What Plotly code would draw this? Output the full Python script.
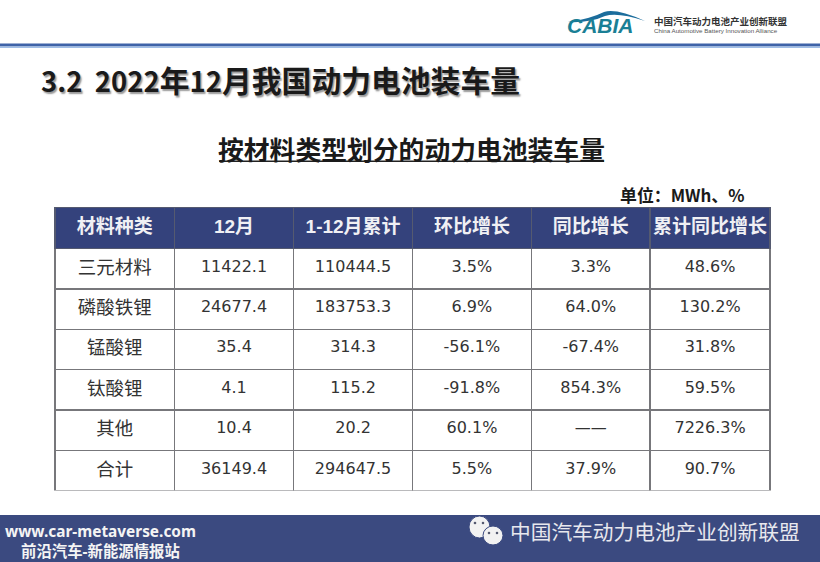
import plotly.graph_objects as go

headers = ["材料种类", "12月", "1-12月累计", "环比增长", "同比增长", "累计同比增长"]
materials = ["三元材料", "磷酸铁锂", "锰酸锂", "钛酸锂", "其他", "合计"]
dec_mwh = ["11422.1", "24677.4", "35.4", "4.1", "10.4", "36149.4"]
ytd_mwh = ["110444.5", "183753.3", "314.3", "115.2", "20.2", "294647.5"]
mom = ["3.5%", "6.9%", "-56.1%", "-91.8%", "60.1%", "5.5%"]
yoy = ["3.3%", "64.0%", "-67.4%", "854.3%", "——", "37.9%"]
ytd_yoy = ["48.6%", "130.2%", "31.8%", "59.5%", "7226.3%", "90.7%"]

W, H = 820, 562
CJK = "Noto Sans CJK SC"
MIX = "DejaVu Sans, Noto Sans CJK SC"
HEADFONT = "Liberation Sans, Noto Sans CJK SC"
NAVY = "#3b4a80"
HEAD = "#34427c"
LINE = "#77777b"
TXT = "#333333"


def px(v):
    return v / W


def py(v):
    return 1 - v / H


def sub(col):
    return [f"<sub>{v}</sub>" for v in col]


fig = go.Figure(go.Table(
    domain=dict(x=[px(55), px(771)], y=[py(491), py(207.5)]),
    columnwidth=[119.5, 119.5, 119, 119, 119, 120],
    header=dict(
        values=[f"<b>{h}</b>" for h in headers],
        height=41,
        fill_color=HEAD,
        line=dict(color="#555a70", width=1.4),
        align="center",
        font=dict(family=HEADFONT, size=19, color="#f0f0f4"),
    ),
    cells=dict(
        values=[sub(c) for c in (materials, dec_mwh, ytd_mwh, mom, yoy, ytd_yoy)],
        height=40.4,
        fill_color="white",
        line=dict(color=LINE, width=1.4),
        align="center",
        font=dict(family=MIX, size=[26.4, 22.9, 22.9, 22.9, 22.9, 22.9], color=TXT),
    ),
))

shapes = [
    dict(type="rect", xref="paper", yref="paper", x0=0, x1=1, y0=py(46.5), y1=py(43.5),
         fillcolor="#3f63a8", line_width=0),
    dict(type="rect", xref="paper", yref="paper", x0=0, x1=1, y0=py(48), y1=py(46.5),
         fillcolor="#9fbde6", line_width=0),
    dict(type="rect", xref="paper", yref="paper", x0=0, x1=1, y0=0, y1=py(515),
         fillcolor=NAVY, line_width=0),
    dict(type="rect", xref="paper", yref="paper", x0=px(219), x1=px(604), y0=py(162), y1=py(160.5),
         fillcolor="#222222", line_width=0),
    dict(type="path", xref="paper", yref="paper",
         path=(f"M {px(568)},{py(22)} Q {px(590)},{py(19)} {px(604)},{py(12)} "
               f"Q {px(616)},{py(8)} {px(645)},{py(21)} Q {px(618)},{py(12)} {px(605)},{py(16)} "
               f"Q {px(590)},{py(23)} {px(568)},{py(22)} Z"),
         fillcolor="#1c6d9c", line_width=0),
    dict(type="circle", xref="paper", yref="paper", x0=px(469), x1=px(490), y0=py(538), y1=py(516),
         fillcolor="#f2f2f2", line=dict(color=NAVY, width=1)),
    dict(type="circle", xref="paper", yref="paper", x0=px(483), x1=px(503), y0=py(545), y1=py(526),
         fillcolor="#f2f2f2", line=dict(color=NAVY, width=1)),
]
for ex, ey in [(475, 523), (483, 523), (489, 533), (497, 533)]:
    shapes.append(dict(type="circle", xref="paper", yref="paper", x0=px(ex - 1.3), x1=px(ex + 1.3),
                       y0=py(ey + 1.3), y1=py(ey - 1.3), fillcolor="#555a70", line_width=0))


def text(x, y, s, size, color="#222222", anchor="center", family=CJK, **font_extra):
    return dict(xref="paper", yref="paper", x=px(x), y=py(y), text=s, showarrow=False,
                xanchor=anchor, yanchor="middle",
                font=dict(family=family, size=size, color=color, **font_extra))


TITLE = ('<b><span style="font-size:27.5px">3.2  2022</span>年'
         '<span style="font-size:27.5px">12</span>月我国动力电池装车量</b>')

annotations = [
    text(39, 79.5, TITLE, 29.8, "#1a1a1a", "left", shadow="1.5px 1.5px 1.5px #999999"),
    text(411.5, 148, "<b>按材料类型划分的动力电池装车量</b>", 25.8, "#1a1a1a"),
    text(682, 194, "<b>单位：MWh、%</b>", 16.9, "#1a1a1a"),
    text(600, 26, "<b><i>CABIA</i></b>", 21, "#1a7f95", family="Liberation Sans"),
    text(652, 21.5, "<b>中国汽车动力电池产业创新联盟</b>", 9.5, "#333333", "left"),
    text(652, 31, "China Automotive Battery Innovation Alliance", 6.2, "#555555", "left", "Liberation Sans"),
    text(100.5, 541.5, "<b>www.car-metaverse.com<br>前沿汽车-新能源情报站</b>", 15.4, "#f4f4f4", family="Noto Sans, Noto Sans CJK SC"),
    text(508, 531, "中国汽车动力电池产业创新联盟", 20.7, "#e8e8ee", "left"),
]

fig.update_layout(
    width=W, height=H,
    margin=dict(l=0, r=0, t=0, b=0),
    paper_bgcolor="white",
    showlegend=False,
    shapes=shapes,
    annotations=annotations,
)
fig.write_html("out.html", post_script="document.body.style.margin='0';",
               config={"displayModeBar": False})
